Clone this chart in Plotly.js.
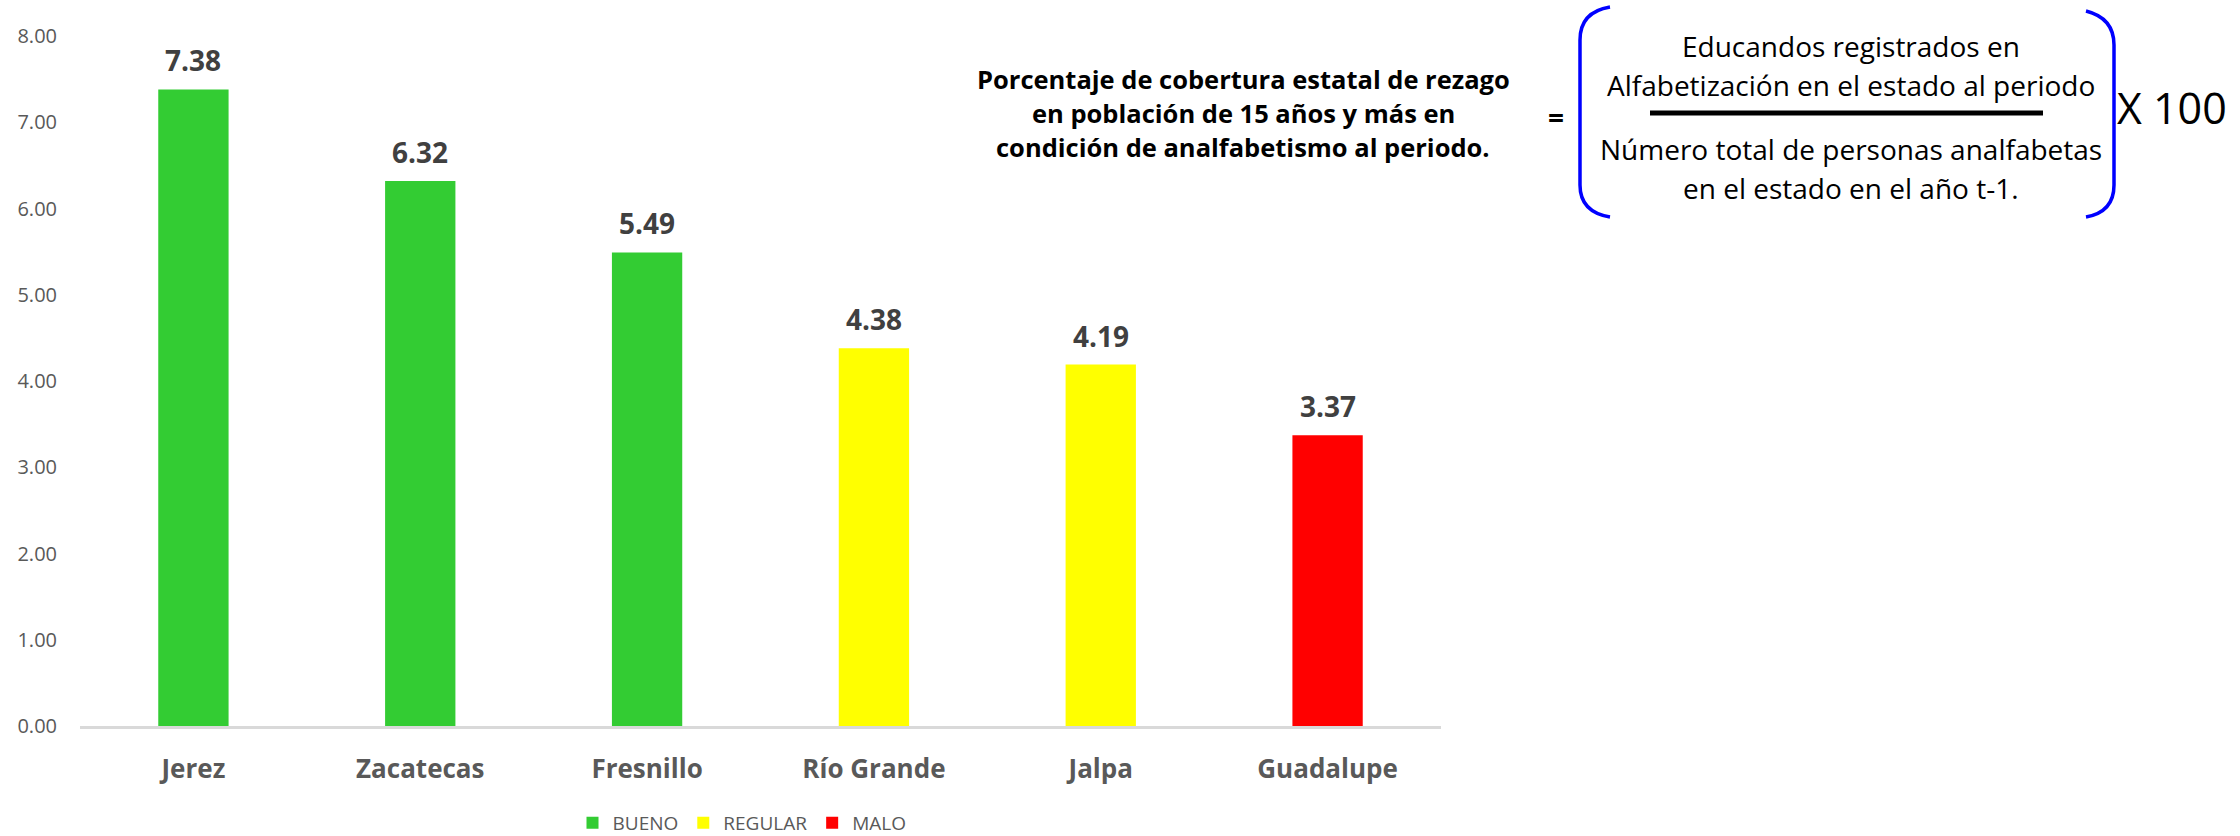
<!DOCTYPE html>
<html>
<head>
<meta charset="utf-8">
<script src="https://cdn.plot.ly/plotly-3.0.1.min.js"></script>
<style>
html,body{margin:0;padding:0;background:#fff;}
#chart{width:2240px;height:836px;}
</style>
</head>
<body>
<div id="chart"></div>
<script>
// ---- data ----
const categories = ["Jerez", "Zacatecas", "Fresnillo", "Río Grande", "Jalpa", "Guadalupe"];
const values = [7.38, 6.32, 5.49, 4.38, 4.19, 3.37];
const status = ["BUENO", "BUENO", "BUENO", "REGULAR", "REGULAR", "MALO"];
const groups = ["BUENO", "REGULAR", "MALO"];
const groupColors = {"BUENO": "#33CC33", "REGULAR": "#FFFF00", "MALO": "#FF0000"};
const yTicks = [0, 1, 2, 3, 4, 5, 6, 7, 8];

const titleLines = ["Porcentaje de cobertura estatal de rezago", "en población de 15 años y más en", "condición de analfabetismo al periodo."];
const numeratorLines = ["Educandos registrados en", "Alfabetización en el estado al periodo"];
const denominatorLines = ["Número total de personas analfabetas", "en el estado en el año t-1."];
const multiplier = "X 100";

// ---- geometry helpers (layout only) ----
const W = 2240, H = 836;
const M = {l: 80, r: 2240 - 1441, t: 36, b: 836 - 726, autoexpand: false};
const PW = W - M.l - M.r, PH = H - M.t - M.b;
const px = x => (x - M.l) / PW;
const py = y => (H - M.b - y) / PH;

const FONT = "Open Sans, Liberation Sans, sans-serif";

const traces = groups.map(g => {
  const xs = [], ys = [];
  categories.forEach((c, i) => { if (status[i] === g) { xs.push(c); ys.push(values[i]); } });
  return {
    type: "bar", name: g, x: xs, y: ys,
    marker: {color: groupColors[g]},
    width: 0.31,
    hoverinfo: "x+y"
  };
});

const annotations = categories.map((c, i) => ({
  x: c, y: values[i], xref: "x", yref: "y",
  text: values[i].toFixed(2), showarrow: false,
  yanchor: "bottom", yshift: 8,
  font: {family: FONT, size: 28, color: "#404040", weight: "bold"}
}));

// title text block
const titleX = px(1243);
const titleYs = [79, 113, 147];
titleLines.forEach((t, i) => annotations.push({
  xref: "paper", yref: "paper", x: titleX, y: py(titleYs[i]),
  text: "<b>" + t + "</b>", showarrow: false, xanchor: "center", yanchor: "middle",
  font: {family: FONT, size: 25.5, color: "#000000"}
}));
annotations.push({
  xref: "paper", yref: "paper", x: px(1556), y: py(117),
  text: "<b>=</b>", showarrow: false, xanchor: "center", yanchor: "middle",
  font: {family: FONT, size: 28, color: "#000000"}
});
const fracX = px(1851);
const numYs = [46, 85], denYs = [149, 188];
numeratorLines.forEach((t, i) => annotations.push({
  xref: "paper", yref: "paper", x: fracX, y: py(numYs[i]),
  text: t, showarrow: false, xanchor: "center", yanchor: "middle",
  font: {family: FONT, size: 28, color: "#000000"}
}));
denominatorLines.forEach((t, i) => annotations.push({
  xref: "paper", yref: "paper", x: fracX, y: py(denYs[i]),
  text: t, showarrow: false, xanchor: "center", yanchor: "middle",
  font: {family: FONT, size: 28, color: "#000000"}
}));
annotations.push({
  xref: "paper", yref: "paper", x: px(2115), y: py(107),
  text: multiplier, showarrow: false, xanchor: "left", yanchor: "middle",
  font: {family: FONT, size: 43, color: "#000000"}
});

// brackets & fraction bar (decoration)
function P(x, y) { return px(x).toFixed(5) + "," + py(y).toFixed(5); }
const leftBracket = "M" + P(1610, 7) + " Q" + P(1580, 12) + " " + P(1580, 40) +
  " L" + P(1580, 185) + " Q" + P(1580, 212) + " " + P(1610, 217);
const rightBracket = "M" + P(2086, 11) + " Q" + P(2114, 18) + " " + P(2114, 45) +
  " L" + P(2114, 185) + " Q" + P(2114, 212) + " " + P(2086, 217);
const shapes = [
  {type: "path", xref: "paper", yref: "paper", path: leftBracket, line: {color: "#0000FF", width: 3.5}},
  {type: "path", xref: "paper", yref: "paper", path: rightBracket, line: {color: "#0000FF", width: 3.5}},
  {type: "line", xref: "paper", yref: "paper", x0: px(1650), x1: px(2043), y0: py(113), y1: py(113),
   line: {color: "#000000", width: 5}}
];

const layout = {
  width: W, height: H,
  margin: M,
  paper_bgcolor: "#ffffff", plot_bgcolor: "#ffffff",
  barmode: "overlay",
  showlegend: true,
  legend: {
    orientation: "h", x: px(742), xanchor: "center", y: py(842), yanchor: "bottom",
    font: {family: FONT, size: 19, color: "#595959"},
    traceorder: "normal"
  },
  xaxis: {
    type: "category", categoryorder: "array", categoryarray: categories,
    showgrid: false, zeroline: false,
    showline: true, linecolor: "#D9D9D9", linewidth: 2.5,
    ticks: "", ticklabelstandoff: 18,
    tickfont: {family: FONT, size: 26, color: "#595959", weight: "bold"}
  },
  yaxis: {
    range: [0, 8], tickvals: yTicks, tickformat: ".2f",
    showgrid: false, zeroline: false, showline: false,
    ticks: "", ticklabelstandoff: 22,
    tickfont: {family: FONT, size: 20, color: "#595959"}
  },
  annotations: annotations,
  shapes: shapes
};

Plotly.newPlot("chart", traces, layout, {displayModeBar: false, staticPlot: true});
</script>
</body>
</html>
